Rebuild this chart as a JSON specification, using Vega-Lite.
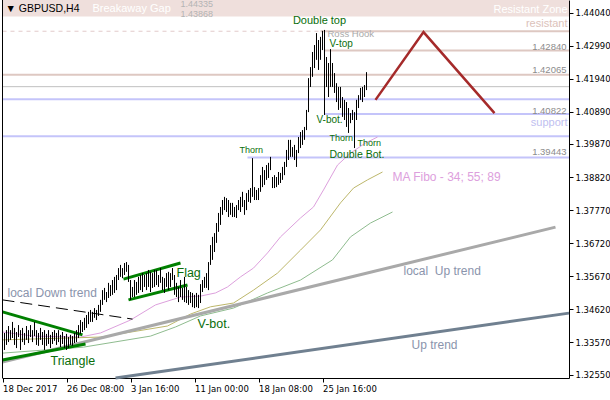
{
"$schema": "https://vega.github.io/schema/vega-lite/v6.json",
"width": 567, "height": 378,
"autosize": {"type": "none"},
"padding": {"left": 2, "top": 0, "right": 41, "bottom": 22},
"background": "white",
"config": {"view": {"stroke": null}, "font": "DejaVu Sans", "text": {"font": "Liberation Sans", "baseline": "middle"}},
"encoding": {
  "x": {"field": "t", "type": "quantitative", "scale": {"domain": [-0.25, 283.25], "nice": false, "zero": false},
    "axis": {"title": null, "values": [0, 32, 64, 96, 128, 160], "grid": false, "labelAlign": "left", "labelBaseline": "top", "labelPadding": 2, "tickSize": 4, "labelFlush": false, "labelOverlap": false, "labelFontSize": 8.5, "labelFont": "DejaVu Sans", "labelColor": "black", "domainColor": "black", "tickColor": "black",
      "labelExpr": "datum.value == 0 ? '18 Dec 2017' : datum.value == 32 ? '26 Dec 08:00' : datum.value == 64 ? '3 Jan 16:00' : datum.value == 96 ? '11 Jan 00:00' : datum.value == 128 ? '18 Jan 08:00' : '25 Jan 16:00'"}},
  "y": {"field": "p", "type": "quantitative", "scale": {"domain": [1.3244, 1.4444], "nice": false, "zero": false},
    "axis": {"title": null, "orient": "right", "values": [1.4404, 1.4299, 1.4194, 1.4089, 1.3987, 1.3882, 1.3777, 1.3672, 1.3567, 1.3462, 1.3357, 1.3255], "format": ".5f", "grid": false, "labelAlign": "left", "labelPadding": 2, "tickSize": 4, "labelFlush": false, "labelOverlap": false, "labelFontSize": 8.5, "labelFont": "DejaVu Sans", "labelColor": "black", "domainColor": "black", "tickColor": "black"}}
},
"layer": [
  {"data": {"values": [{"t": -0.25, "t2": 283.25, "p": 1.4444, "p2": 1.43915}]}, "mark": {"type": "rect", "color": "#efdfdc"}, "encoding": {"x2": {"field": "t2"}, "y2": {"field": "p2"}}},
  {"data": {"values": [{"t": 159, "t2": 283.25, "p": 1.43448}, {"t": 161, "t2": 283.25, "p": 1.4284}, {"t": 0, "t2": 283.25, "p": 1.42065}]}, "mark": {"type": "rule", "color": "#dec8c2", "strokeWidth": 2}, "encoding": {"x2": {"field": "t2"}}},
  {"data": {"values": [{"t": 0, "t2": 159, "p": 1.43448}]}, "mark": {"type": "rule", "color": "#e2caca", "strokeWidth": 1, "strokeDash": [4, 4]}, "encoding": {"x2": {"field": "t2"}}},
  {"data": {"values": [{"t": 0, "t2": 283.25, "p": 1.41689}]}, "mark": {"type": "rule", "color": "#c0c0c0", "strokeWidth": 1}, "encoding": {"x2": {"field": "t2"}}},
  {"data": {"values": [{"t": 0, "t2": 283.25, "p": 1.4129}, {"t": 161, "t2": 283.25, "p": 1.40822}, {"t": 0, "t2": 283.25, "p": 1.40115}, {"t": 122.5, "t2": 283.25, "p": 1.39443}]}, "mark": {"type": "rule", "color": "#c4c4fa", "strokeWidth": 2}, "encoding": {"x2": {"field": "t2"}}},
  {"data": {"values": [{"t": 0, "p": 1.339}, {"t": 15.5, "p": 1.3377}, {"t": 39, "p": 1.3374}, {"t": 49, "p": 1.3387}, {"t": 64, "p": 1.3428}, {"t": 76.5, "p": 1.3476}, {"t": 89, "p": 1.3501}, {"t": 99, "p": 1.3504}, {"t": 106.5, "p": 1.3514}, {"t": 112.5, "p": 1.3533}, {"t": 119, "p": 1.3565}, {"t": 125.5, "p": 1.3593}, {"t": 132.5, "p": 1.3641}, {"t": 139, "p": 1.3692}, {"t": 149, "p": 1.3752}, {"t": 155.5, "p": 1.3787}, {"t": 160.5, "p": 1.3841}, {"t": 167.5, "p": 1.392}, {"t": 174, "p": 1.3958}, {"t": 181.5, "p": 1.399}, {"t": 187.5, "p": 1.4009}]}, "mark": {"type": "line", "color": "#dda0dd", "strokeWidth": 1}, "encoding": {}},
  {"data": {"values": [{"t": 0, "p": 1.3365}, {"t": 49, "p": 1.3374}, {"t": 82.5, "p": 1.3409}, {"t": 94, "p": 1.3447}, {"t": 104, "p": 1.347}, {"t": 115.5, "p": 1.3482}, {"t": 125.5, "p": 1.3523}, {"t": 137.5, "p": 1.3577}, {"t": 149, "p": 1.365}, {"t": 159, "p": 1.3714}, {"t": 169, "p": 1.38}, {"t": 175.5, "p": 1.3847}, {"t": 182.5, "p": 1.3873}, {"t": 190, "p": 1.3898}]}, "mark": {"type": "line", "color": "#bdb76b", "strokeWidth": 1}, "encoding": {}},
  {"data": {"values": [{"t": 0, "p": 1.3323}, {"t": 40.5, "p": 1.3342}, {"t": 74, "p": 1.3377}, {"t": 86.5, "p": 1.3406}, {"t": 99, "p": 1.3441}, {"t": 115.5, "p": 1.3466}, {"t": 132.5, "p": 1.3514}, {"t": 149, "p": 1.3555}, {"t": 165, "p": 1.3619}, {"t": 174, "p": 1.3692}, {"t": 184, "p": 1.3736}, {"t": 195, "p": 1.3771}]}, "mark": {"type": "line", "color": "#8fbc8f", "strokeWidth": 1}, "encoding": {}},
  {"data": {"values": [{"t": 0, "p": 1.3295, "t2": 276.5, "p2": 1.3723}]}, "mark": {"type": "rule", "color": "#a9a9a9", "strokeWidth": 3}, "encoding": {"x2": {"field": "t2"}, "y2": {"field": "p2"}}},
  {"data": {"values": [{"t": 56.5, "p": 1.3244, "t2": 283.25, "p2": 1.345}]}, "mark": {"type": "rule", "color": "#708090", "strokeWidth": 3}, "encoding": {"x2": {"field": "t2"}, "y2": {"field": "p2"}}},
  {"data": {"values": [{"t": 0, "p": 1.3492, "t2": 65, "p2": 1.3431}]}, "mark": {"type": "rule", "color": "black", "strokeWidth": 1, "strokeDash": [12, 6]}, "encoding": {"x2": {"field": "t2"}, "y2": {"field": "p2"}}},
  {"data": {"values": [{"t": 0, "p": 1.3454, "t2": 40, "p2": 1.3381}, {"t": 0, "p": 1.3301, "t2": 41.5, "p2": 1.3352}, {"t": 60.5, "p": 1.3558, "t2": 89, "p2": 1.3609}, {"t": 63, "p": 1.3492, "t2": 92.5, "p2": 1.3539}]}, "mark": {"type": "rule", "color": "#008000", "strokeWidth": 3}, "encoding": {"x2": {"field": "t2"}, "y2": {"field": "p2"}}},
  {"data": {"values": [
    {"t":0,"p":1.3371,"p2":1.3320},{"t":1,"p":1.3387,"p2":1.3333},{"t":2,"p":1.3396,"p2":1.3349},{"t":3,"p":1.3409,"p2":1.3358},{"t":4,"p":1.3396,"p2":1.3365},
    {"t":5,"p":1.3422,"p2":1.3371},{"t":6,"p":1.3403,"p2":1.3349},{"t":7,"p":1.3390,"p2":1.3339},{"t":8,"p":1.3412,"p2":1.3374},{"t":9,"p":1.3396,"p2":1.3333},
    {"t":10,"p":1.3403,"p2":1.3358},{"t":11,"p":1.3387,"p2":1.3349},{"t":12,"p":1.3409,"p2":1.3365},{"t":13,"p":1.3396,"p2":1.3355},{"t":14,"p":1.3412,"p2":1.3374},
    {"t":15,"p":1.3396,"p2":1.3358},{"t":16,"p":1.3422,"p2":1.3377},{"t":17,"p":1.3396,"p2":1.3349},{"t":18,"p":1.3387,"p2":1.3346},{"t":19,"p":1.3403,"p2":1.3365},
    {"t":20,"p":1.3390,"p2":1.3349},{"t":21,"p":1.3396,"p2":1.3333},{"t":22,"p":1.3384,"p2":1.3346},{"t":23,"p":1.3396,"p2":1.3352},{"t":24,"p":1.3381,"p2":1.3339},
    {"t":25,"p":1.3390,"p2":1.3352},{"t":26,"p":1.3396,"p2":1.3362},{"t":27,"p":1.3387,"p2":1.3349},{"t":28,"p":1.3396,"p2":1.3358},{"t":29,"p":1.3381,"p2":1.3342},
    {"t":30,"p":1.3390,"p2":1.3352},{"t":31,"p":1.3377,"p2":1.3339},{"t":32,"p":1.3384,"p2":1.3333},{"t":33,"p":1.3374,"p2":1.3339},{"t":34,"p":1.3381,"p2":1.3349},
    {"t":35,"p":1.3377,"p2":1.3346},{"t":36,"p":1.3387,"p2":1.3355},{"t":37,"p":1.3396,"p2":1.3358},{"t":38,"p":1.3412,"p2":1.3371},{"t":39,"p":1.3428,"p2":1.3384},
    {"t":40,"p":1.3422,"p2":1.3390},{"t":41,"p":1.3435,"p2":1.3396},{"t":42,"p":1.3444,"p2":1.3403},{"t":43,"p":1.3454,"p2":1.3415},{"t":44,"p":1.3460,"p2":1.3422},
    {"t":45,"p":1.3454,"p2":1.3422},{"t":46,"p":1.3466,"p2":1.3435},{"t":47,"p":1.3460,"p2":1.3428},{"t":48,"p":1.3476,"p2":1.3441},{"t":49,"p":1.3492,"p2":1.3454},
    {"t":50,"p":1.3523,"p2":1.3476},{"t":51,"p":1.3530,"p2":1.3492},{"t":52,"p":1.3517,"p2":1.3485},{"t":53,"p":1.3546,"p2":1.3498},{"t":54,"p":1.3539,"p2":1.3504},
    {"t":55,"p":1.3555,"p2":1.3508},{"t":56,"p":1.3565,"p2":1.3514},{"t":57,"p":1.3571,"p2":1.3523},{"t":58,"p":1.3593,"p2":1.3555},{"t":59,"p":1.3603,"p2":1.3565},
    {"t":60,"p":1.3593,"p2":1.3561},{"t":61,"p":1.3609,"p2":1.3571},{"t":62,"p":1.3612,"p2":1.3581},{"t":63,"p":1.3603,"p2":1.3549},{"t":64,"p":1.3555,"p2":1.3492},
    {"t":65,"p":1.3533,"p2":1.3501},{"t":66,"p":1.3555,"p2":1.3501},{"t":67,"p":1.3549,"p2":1.3508},{"t":68,"p":1.3565,"p2":1.3514},{"t":69,"p":1.3571,"p2":1.3523},
    {"t":70,"p":1.3577,"p2":1.3517},{"t":71,"p":1.3571,"p2":1.3533},{"t":72,"p":1.3577,"p2":1.3523},{"t":73,"p":1.3587,"p2":1.3533},{"t":74,"p":1.3581,"p2":1.3517},
    {"t":75,"p":1.3577,"p2":1.3530},{"t":76,"p":1.3587,"p2":1.3533},{"t":77,"p":1.3587,"p2":1.3539},{"t":78,"p":1.3571,"p2":1.3533},{"t":79,"p":1.3593,"p2":1.3546},
    {"t":80,"p":1.3565,"p2":1.3523},{"t":81,"p":1.3561,"p2":1.3514},{"t":82,"p":1.3577,"p2":1.3533},{"t":83,"p":1.3581,"p2":1.3523},{"t":84,"p":1.3577,"p2":1.3533},
    {"t":85,"p":1.3593,"p2":1.3555},{"t":86,"p":1.3571,"p2":1.3508},{"t":87,"p":1.3546,"p2":1.3501},{"t":88,"p":1.3533,"p2":1.3485},{"t":89,"p":1.3555,"p2":1.3501},
    {"t":90,"p":1.3530,"p2":1.3492},{"t":91,"p":1.3565,"p2":1.3485},{"t":92,"p":1.3533,"p2":1.3482},{"t":93,"p":1.3523,"p2":1.3476},{"t":94,"p":1.3517,"p2":1.3482},
    {"t":95,"p":1.3514,"p2":1.3469},{"t":96,"p":1.3508,"p2":1.3466},{"t":97,"p":1.3514,"p2":1.3469},{"t":98,"p":1.3508,"p2":1.3466},{"t":99,"p":1.3542,"p2":1.3482},
    {"t":100,"p":1.3555,"p2":1.3517},{"t":101,"p":1.3565,"p2":1.3530},{"t":102,"p":1.3577,"p2":1.3530},{"t":103,"p":1.3612,"p2":1.3523},{"t":104,"p":1.3666,"p2":1.3603},
    {"t":105,"p":1.3692,"p2":1.3619},{"t":106,"p":1.3704,"p2":1.3644},{"t":107,"p":1.3736,"p2":1.3673},{"t":108,"p":1.3768,"p2":1.3708},{"t":109,"p":1.3787,"p2":1.3730},
    {"t":110,"p":1.3809,"p2":1.3762},{"t":111,"p":1.3819,"p2":1.3777},{"t":112,"p":1.3815,"p2":1.3771},{"t":113,"p":1.3809,"p2":1.3755},{"t":114,"p":1.3800,"p2":1.3762},
    {"t":115,"p":1.3800,"p2":1.3755},{"t":116,"p":1.3787,"p2":1.3755},{"t":117,"p":1.3793,"p2":1.3752},{"t":118,"p":1.3809,"p2":1.3777},{"t":119,"p":1.3819,"p2":1.3771},
    {"t":120,"p":1.3835,"p2":1.3787},{"t":121,"p":1.3809,"p2":1.3762},{"t":122,"p":1.3831,"p2":1.3777},{"t":123,"p":1.3841,"p2":1.3803},{"t":124,"p":1.3847,"p2":1.3800},
    {"t":125,"p":1.3942,"p2":1.3819},{"t":126,"p":1.3850,"p2":1.3809},{"t":127,"p":1.3841,"p2":1.3809},{"t":128,"p":1.3847,"p2":1.3809},{"t":129,"p":1.3888,"p2":1.3835},
    {"t":130,"p":1.3914,"p2":1.3850},{"t":131,"p":1.3904,"p2":1.3857},{"t":132,"p":1.3920,"p2":1.3873},{"t":133,"p":1.3927,"p2":1.3879},{"t":134,"p":1.3946,"p2":1.3904},
    {"t":135,"p":1.3882,"p2":1.3847},{"t":136,"p":1.3888,"p2":1.3847},{"t":137,"p":1.3882,"p2":1.3850},{"t":138,"p":1.3898,"p2":1.3857},{"t":139,"p":1.3895,"p2":1.3863},
    {"t":140,"p":1.3914,"p2":1.3873},{"t":141,"p":1.3930,"p2":1.3888},{"t":142,"p":1.3968,"p2":1.3914},{"t":143,"p":1.4000,"p2":1.3936},{"t":144,"p":1.4000,"p2":1.3946},
    {"t":145,"p":1.3977,"p2":1.3946},{"t":146,"p":1.3984,"p2":1.3936},{"t":147,"p":1.3968,"p2":1.3914},{"t":148,"p":1.4009,"p2":1.3958},{"t":149,"p":1.4025,"p2":1.3974},
    {"t":150,"p":1.4031,"p2":1.3984},{"t":151,"p":1.4041,"p2":1.4000},{"t":152,"p":1.4095,"p2":1.4031},{"t":153,"p":1.4196,"p2":1.4088},{"t":154,"p":1.4231,"p2":1.4168},
    {"t":155,"p":1.4279,"p2":1.4200},{"t":156,"p":1.4301,"p2":1.4228},{"t":157,"p":1.4339,"p2":1.4254},{"t":158,"p":1.4317,"p2":1.4222},{"t":159,"p":1.4327,"p2":1.4254},
    {"t":160,"p":1.4346,"p2":1.4285},{"t":161,"p":1.4349,"p2":1.4079},{"t":162,"p":1.4263,"p2":1.4168},{"t":163,"p":1.4244,"p2":1.4136},{"t":164,"p":1.4288,"p2":1.4168},
    {"t":165,"p":1.4244,"p2":1.4168},{"t":166,"p":1.4212,"p2":1.4149},{"t":167,"p":1.4180,"p2":1.4120},{"t":168,"p":1.4168,"p2":1.4095},{"t":169,"p":1.4168,"p2":1.4101},
    {"t":170,"p":1.4136,"p2":1.4073},{"t":171,"p":1.4127,"p2":1.4063},{"t":172,"p":1.4120,"p2":1.4041},{"t":173,"p":1.4101,"p2":1.4022},{"t":174,"p":1.4085,"p2":1.4053},
    {"t":175,"p":1.4095,"p2":1.4063},{"t":176,"p":1.4088,"p2":1.3974},{"t":177,"p":1.4127,"p2":1.4063},{"t":178,"p":1.4142,"p2":1.4101},{"t":179,"p":1.4165,"p2":1.4127},
    {"t":180,"p":1.4168,"p2":1.4120},{"t":181,"p":1.4174,"p2":1.4136},{"t":182,"p":1.4215,"p2":1.4158}
  ]}, "mark": {"type": "rule", "color": "black", "strokeWidth": 1}, "encoding": {"y2": {"field": "p2"}}},
  {"data": {"values": [{"t": 186.5, "p": 1.4127}, {"t": 210.5, "p": 1.4342}, {"t": 246, "p": 1.4085}]}, "mark": {"type": "line", "color": "#a52a2a", "strokeWidth": 2.5}, "encoding": {}},
  {"data": {"values": [{"t": 0, "p": 1.3244, "p2": 1.4444}]}, "mark": {"type": "rule", "color": "black", "strokeWidth": 1}, "encoding": {"y2": {"field": "p2"}}},
  {"data": {"values": [{"t": 1.5, "p": 1.4416, "label": "▼ GBPUSD,H4"}]}, "mark": {"type": "text", "align": "left", "fontSize": 10.5, "color": "black"}, "encoding": {"text": {"field": "label"}}},
  {"data": {"values": [{"t": 45, "p": 1.4416, "label": "Breakaway Gap"}]}, "mark": {"type": "text", "align": "left", "fontSize": 11, "color": "white"}, "encoding": {"text": {"field": "label"}}},
  {"data": {"values": [{"t": 282.5, "p": 1.4412, "label": "Resistant Zone"}]}, "mark": {"type": "text", "align": "right", "fontSize": 11, "color": "white"}, "encoding": {"text": {"field": "label"}}},
  {"data": {"values": [{"t": 89, "p": 1.4431, "label": "1.44335"}, {"t": 89, "p": 1.44, "label": "1.43868"}]}, "mark": {"type": "text", "align": "left", "fontSize": 9, "color": "#b4b4b4"}, "encoding": {"text": {"field": "label"}}},
  {"data": {"values": [{"t": 282.5, "p": 1.4368, "label": "resistant"}]}, "mark": {"type": "text", "align": "right", "fontSize": 11, "color": "#dcc2ba"}, "encoding": {"text": {"field": "label"}}},
  {"data": {"values": [{"t": 282.5, "p": 1.4054, "label": "support"}]}, "mark": {"type": "text", "align": "right", "fontSize": 11, "color": "#c0c0f0"}, "encoding": {"text": {"field": "label"}}},
  {"data": {"values": [{"t": 282, "p": 1.4295, "label": "1.42840"}, {"t": 282, "p": 1.4223, "label": "1.42065"}, {"t": 282, "p": 1.4092, "label": "1.40822"}, {"t": 282, "p": 1.3961, "label": "1.39443"}]}, "mark": {"type": "text", "align": "right", "fontSize": 9.5, "color": "#8c8c8c"}, "encoding": {"text": {"field": "label"}}},
  {"data": {"values": [{"t": 158.5, "p": 1.4377, "label": "Double top"}]}, "mark": {"type": "text", "align": "center", "fontSize": 11, "color": "#0a6e0a"}, "encoding": {"text": {"field": "label"}}},
  {"data": {"values": [{"t": 162.5, "p": 1.4335, "label": "Ross Hook"}]}, "mark": {"type": "text", "align": "left", "fontSize": 9.5, "color": "#a9a9a9"}, "encoding": {"text": {"field": "label"}}},
  {"data": {"values": [{"t": 163.5, "p": 1.4303, "label": "V-top"}, {"t": 157, "p": 1.4063, "label": "V-bot."}]}, "mark": {"type": "text", "align": "left", "fontSize": 10, "color": "#0a6e0a"}, "encoding": {"text": {"field": "label"}}},
  {"data": {"values": [{"t": 163.5, "p": 1.4005, "label": "Thorn"}, {"t": 177.5, "p": 1.3991, "label": "Thorn"}, {"t": 118.5, "p": 1.3969, "label": "Thorn"}]}, "mark": {"type": "text", "align": "left", "fontSize": 9, "color": "#0a6e0a"}, "encoding": {"text": {"field": "label"}}},
  {"data": {"values": [{"t": 163.5, "p": 1.3953, "label": "Double Bot."}]}, "mark": {"type": "text", "align": "left", "fontSize": 10.5, "color": "#0a6e0a"}, "encoding": {"text": {"field": "label"}}},
  {"data": {"values": [{"t": 87, "p": 1.3577, "label": "Flag"}, {"t": 97.5, "p": 1.3415, "label": "V-bot."}, {"t": 24, "p": 1.3298, "label": "Triangle"}]}, "mark": {"type": "text", "align": "left", "fontSize": 12.5, "color": "#0a6e0a"}, "encoding": {"text": {"field": "label"}}},
  {"data": {"values": [{"t": 195, "p": 1.3882, "label": "MA Fibo - 34; 55; 89"}]}, "mark": {"type": "text", "align": "left", "fontSize": 12, "color": "#dda0dd"}, "encoding": {"text": {"field": "label"}}},
  {"data": {"values": [{"t": 200.5, "p": 1.3584, "label": "local\u00a0 Up trend"}, {"t": 204.5, "p": 1.3349, "label": "Up trend"}, {"t": 2.5, "p": 1.3514, "label": "local Down trend"}]}, "mark": {"type": "text", "align": "left", "fontSize": 12, "color": "#8a94ac"}, "encoding": {"text": {"field": "label"}}},
  {"data": {"values": [{"p": 1.43448}]}, "mark": {"type": "point", "filled": true, "opacity": 1, "size": 1600, "shape": "M-1,-0.3H1V0.3H-1Z", "color": "#dcc4bc", "strokeWidth": 0}, "encoding": {"x": {"datum": 294}}},
  {"data": {"values": [{"p": 1.41689}]}, "mark": {"type": "point", "filled": true, "opacity": 1, "size": 1600, "shape": "M-1,-0.3H1V0.3H-1Z", "color": "black", "strokeWidth": 0}, "encoding": {"x": {"datum": 294}}},
  {"data": {"values": [{"p": 1.4129}, {"p": 1.40115}]}, "mark": {"type": "point", "filled": true, "opacity": 1, "size": 1600, "shape": "M-1,-0.3H1V0.3H-1Z", "color": "#c4c4fa", "strokeWidth": 0}, "encoding": {"x": {"datum": 294}}},
  {"data": {"values": [{"p": 1.43448, "label": "1.43448"}, {"p": 1.41689, "label": "1.41689"}, {"p": 1.4129, "label": "1.41290"}, {"p": 1.40115, "label": "1.40115"}]}, "mark": {"type": "text", "align": "left", "fontSize": 8.5, "font": "DejaVu Sans", "color": "white"}, "encoding": {"x": {"datum": 286.5}, "text": {"field": "label"}}}
]
}
